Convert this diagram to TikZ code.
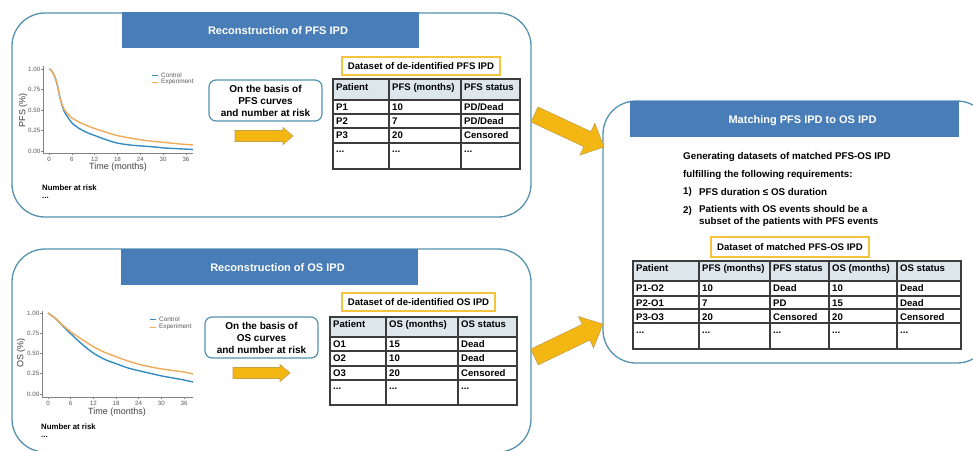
\documentclass[tikz,border=0pt]{standalone}
\usepackage{fontspec}
\setmainfont{Liberation Sans}
\definecolor{panelc}{RGB}{84,146,176}
\definecolor{bannerc}{RGB}{72,125,183}
\definecolor{goldc}{RGB}{243,182,18}
\definecolor{goldline}{RGB}{196,160,70}
\definecolor{hdrc}{RGB}{220,230,235}
\definecolor{gridc}{RGB}{60,60,60}
\definecolor{lblc}{RGB}{245,195,60}
\definecolor{ctrlc}{RGB}{52,140,196}
\definecolor{expc}{RGB}{240,170,90}
\definecolor{axisc}{RGB}{130,130,130}
\definecolor{tickc}{RGB}{90,90,90}
\tikzset{
 panelbox/.style={draw=panelc, line width=1.3pt, rounded corners=33pt},
 bannerbox/.style={fill=bannerc, draw=none},
 titletext/.style={text=white, inner sep=0pt, font=\fontsize{11}{13}\selectfont\bfseries},
 basisbox/.style={draw=panelc, line width=1.2pt, rounded corners=7pt, fill=white, minimum width=113pt, minimum height=41pt, align=center, font=\fontsize{10}{12}\selectfont\bfseries, inner sep=0pt},
 lblbox/.style={draw=lblc, line width=1.4pt, inner sep=0pt, font=\fontsize{9.6}{11}\selectfont\bfseries},
 celltext/.style={anchor=base west, inner sep=0pt, font=\fontsize{9.6}{11}\selectfont\bfseries},
 gridline/.style={draw=gridc, line width=1.1pt},
 hdrfill/.style={fill=hdrc, draw=none},
 bigarrow/.style={fill=goldc, draw=goldline, line width=0.6pt, line join=miter},
 ticklbl/.style={inner sep=0pt, text=tickc, font=\fontsize{6.2}{7}\selectfont},
 axline/.style={draw=axisc, line width=0.6pt},
 axlabel/.style={inner sep=0pt, text=black!75, font=\fontsize{9}{10}\selectfont},
 legtext/.style={anchor=west, inner sep=0pt, text=tickc, font=\fontsize{6.4}{7}\selectfont},
 riskhead/.style={anchor=west, inner sep=0pt, font=\fontsize{7.8}{9}\selectfont\bfseries},
 bodytext/.style={anchor=west, inner sep=0pt, font=\fontsize{9.8}{12}\selectfont\bfseries},
 ctrlcurve/.style={draw=ctrlc, line width=1.4pt},
 expcurve/.style={draw=expc, line width=1.4pt}
}
\begin{document}
\begin{tikzpicture}[x=1pt,y=-1pt]
\useasboundingbox (0,0) rectangle (973,450);
\clip (0,0) rectangle (973,450);
\fill[white] (0,0) rectangle (973,450);

% ================= panels =================
\draw[panelbox] (12,13) rectangle (531,217);
\draw[panelbox] (12,249) rectangle (531,452);
\draw[panelbox] (603,101) rectangle (990,363);

\fill[bannerbox] (122,12) rectangle (419,48);
\node[titletext] (t1) at (278,31) {Reconstruction of PFS IPD};
\fill[bannerbox] (121,249) rectangle (418,285);
\node[titletext] (t2) at (277.5,268) {Reconstruction of OS IPD};
\fill[bannerbox] (630,101) rectangle (959,137);
\node[titletext] (t3) at (802.5,121) {Matching PFS IPD to OS IPD};

% ================= PFS plot =================
\draw[axline] (43,66) -- (43,153) -- (193,153);
\foreach \yy/\lab in {69/1.00, 89.5/0.75, 110/0.50, 130.5/0.25, 151/0.00}{
  \draw[axline] (41,\yy) -- (43,\yy);
  \node[ticklbl, anchor=east] at (40.5,\yy) {\lab};
}
\foreach \k in {0,...,6}{
  \pgfmathsetmacro{\xx}{49+22.83*\k}
  \pgfmathtruncatemacro{\tv}{6*\k}
  \draw[axline] (\xx,153) -- (\xx,155);
  \node[ticklbl] at (\xx,159.5) {\tv};
}
\node[axlabel] (pfsx) at (118,167) {Time (months)};
\node[axlabel, rotate=90] (pfsy) at (23,110) {PFS (\%)};
\draw[ctrlcurve] plot[smooth, tension=0.5] coordinates {(49,69) (51,70) (53,73) (56,80) (58,88) (60,98) (62,105) (64,111) (67,116) (72,123) (80,129) (88,133) (96,136) (107,140) (117,143) (130,145) (142,146) (155,147) (165,148) (180,148.8) (193,149.5)};
\draw[expcurve] plot[smooth, tension=0.5] coordinates {(49,69) (51,70) (53,73) (56,80) (58,88) (60,98) (62,104) (64,109) (67,113) (72,118) (80,122.5) (88,126) (96,129) (107,132.5) (117,135.5) (130,138) (142,140) (155,141.5) (165,142.5) (180,144) (193,145)};
\draw[ctrlcurve, line width=1pt] (152,75) -- (158,75);
\draw[expcurve, line width=1pt] (152,82) -- (158,82);
\node[legtext] (pl1) at (161,75) {Control};
\node[legtext] (pl2) at (161,82) {Experiment};
\node[riskhead] (pr1) at (42,188) {Number at risk};
\node[riskhead] (pr2) at (42,198) {...};

% ================= OS plot =================
\draw[axline] (42,311) -- (42,397) -- (193,397);
\foreach \yy/\lab in {313/1.00, 333.25/0.75, 353.5/0.50, 373.75/0.25, 394/0.00}{
  \draw[axline] (40,\yy) -- (42,\yy);
  \node[ticklbl, anchor=east] at (39.5,\yy) {\lab};
}
\foreach \k in {0,...,6}{
  \pgfmathsetmacro{\xx}{48+22.67*\k}
  \pgfmathtruncatemacro{\tv}{6*\k}
  \draw[axline] (\xx,397) -- (\xx,399);
  \node[ticklbl] at (\xx,403.5) {\tv};
}
\node[axlabel] (osx) at (117,412) {Time (months)};
\node[axlabel, rotate=90] (osy) at (21,353) {OS (\%)};
\draw[ctrlcurve] plot[smooth, tension=0.5] coordinates {(48,313) (55,318) (62,325) (71,334) (83,345) (94,353.5) (105,359.5) (117,364) (128,368) (140,371) (151,373.5) (162,376) (173,378) (184,380) (193,382)};
\draw[expcurve] plot[smooth, tension=0.5] coordinates {(48,313) (55,318) (62,324.5) (71,332) (83,340) (94,347) (105,352.5) (117,357) (128,361) (140,364.5) (151,367) (162,369) (173,370.5) (184,372) (193,374)};
\draw[ctrlcurve, line width=1pt] (150,319) -- (156,319);
\draw[expcurve, line width=1pt] (150,327) -- (156,327);
\node[legtext] (ol1) at (159,319) {Control};
\node[legtext] (ol2) at (159,327) {Experiment};
\node[riskhead] (or1) at (41,427) {Number at risk};
\node[riskhead] (or2) at (41,437) {...};

% ================= basis boxes and small arrows =================
\node[basisbox] (b1) at (265.5,100.5) {On the basis of\\PFS curves\\and number at risk};
\node[basisbox] (b2) at (261.5,337.5) {On the basis of\\OS curves\\and number at risk};
\draw[bigarrow] (235,130.5) -- (283,130.5) -- (283,127.5) -- (293,136) -- (283,144.5) -- (283,141.5) -- (235,141.5) -- cycle;
\draw[bigarrow] (233,367.5) -- (280,367.5) -- (280,364.5) -- (290,373) -- (280,381.5) -- (280,378.5) -- (233,378.5) -- cycle;

% ================= PFS table =================
\node[lblbox, minimum width=158pt, minimum height=18pt] (lb1) at (421,66) {Dataset of de-identified PFS IPD};
\fill[hdrfill] (333,79) rectangle (520,100);
\draw[gridline] (333,79) rectangle (520,169);
\foreach \yy in {100,114,128,143} \draw[gridline] (333,\yy) -- (520,\yy);
\foreach \xx in {389,461} \draw[gridline] (\xx,79) -- (\xx,169);
\node[celltext] (a11) at (336,90) {Patient};
\node[celltext] (a12) at (392,90) {PFS (months)};
\node[celltext] (a13) at (464,90) {PFS status};
\node[celltext] (a21) at (336,110.5) {P1};
\node[celltext] (a22) at (392,110.5) {10};
\node[celltext] (a23) at (464,110.5) {PD/Dead};
\node[celltext] (a31) at (336,124.5) {P2};
\node[celltext] (a32) at (392,124.5) {7};
\node[celltext] (a33) at (464,124.5) {PD/Dead};
\node[celltext] (a41) at (336,138.5) {P3};
\node[celltext] (a42) at (392,138.5) {20};
\node[celltext] (a43) at (464,138.5) {Censored};
\node[celltext] (a51) at (336,152.5) {...};
\node[celltext] (a52) at (392,152.5) {...};
\node[celltext] (a53) at (464,152.5) {...};

% ================= OS table =================
\node[lblbox, minimum width=153pt, minimum height=18pt] (lb2) at (418.5,302) {Dataset of de-identified OS IPD};
\fill[hdrfill] (330,317) rectangle (517,337);
\draw[gridline] (330,317) rectangle (517,405);
\foreach \yy in {337,351,366,380} \draw[gridline] (330,\yy) -- (517,\yy);
\foreach \xx in {386,458} \draw[gridline] (\xx,317) -- (\xx,405);
\node[celltext] (b11) at (333,327) {Patient};
\node[celltext] (b12) at (389,327) {OS (months)};
\node[celltext] (b13) at (461,327) {OS status};
\node[celltext] (b21) at (333,347.5) {O1};
\node[celltext] (b22) at (389,347.5) {15};
\node[celltext] (b23) at (461,347.5) {Dead};
\node[celltext] (b31) at (333,361.5) {O2};
\node[celltext] (b32) at (389,361.5) {10};
\node[celltext] (b33) at (461,361.5) {Dead};
\node[celltext] (b41) at (333,376) {O3};
\node[celltext] (b42) at (389,376) {20};
\node[celltext] (b43) at (461,376) {Censored};
\node[celltext] (b51) at (333,389.5) {...};
\node[celltext] (b52) at (389,389.5) {...};
\node[celltext] (b53) at (461,389.5) {...};

% ================= big arrows =================
\begin{scope}[shift={(534.5,114.5)}, rotate=-25]
  \draw[bigarrow] (0,-8.25) -- (58.4,-8.25) -- (58.4,-17.5) -- (76.7,0) -- (58.4,17.5) -- (58.4,8.25) -- (0,8.25) -- cycle;
\end{scope}
\begin{scope}[shift={(534.5,357)}, rotate=25.7]
  \draw[bigarrow] (0,-8.7) -- (57.2,-8.7) -- (57.2,-17.3) -- (76,0) -- (57.2,17.3) -- (57.2,8.7) -- (0,8.7) -- cycle;
\end{scope}

% ================= matching panel =================
\node[bodytext] (g1) at (683,157) {Generating datasets of matched PFS-OS IPD};
\node[bodytext] (g2) at (683,175) {fulfilling the following requirements:};
\node[bodytext] (g3) at (683,192) {1)};
\node[bodytext] (g4) at (699,192) {PFS duration ≤ OS duration};
\node[bodytext] (g5) at (683,211) {2)};
\node[bodytext] (g6) at (699,209) {Patients with OS events should be a};
\node[bodytext] (g7) at (699,222) {subset of the patients with PFS events};

\node[lblbox, minimum width=158pt, minimum height=20pt] (lb3) at (790,247) {Dataset of matched PFS-OS IPD};
\fill[hdrfill] (633,261) rectangle (961,281);
\draw[gridline] (633,261) rectangle (961,349);
\foreach \yy in {281,296,309,323} \draw[gridline] (633,\yy) -- (961,\yy);
\foreach \xx in {699,770,829,897} \draw[gridline] (\xx,261) -- (\xx,349);
\node[celltext] (c11) at (636,271) {Patient};
\node[celltext] (c12) at (702,271) {PFS (months)};
\node[celltext] (c13) at (773,271) {PFS status};
\node[celltext] (c14) at (832,271) {OS (months)};
\node[celltext] (c15) at (900,271) {OS status};
\node[celltext] (c21) at (636,291) {P1-O2};
\node[celltext] (c22) at (702,291) {10};
\node[celltext] (c23) at (773,291) {Dead};
\node[celltext] (c24) at (832,291) {10};
\node[celltext] (c25) at (900,291) {Dead};
\node[celltext] (c31) at (636,306) {P2-O1};
\node[celltext] (c32) at (702,306) {7};
\node[celltext] (c33) at (773,306) {PD};
\node[celltext] (c34) at (832,306) {15};
\node[celltext] (c35) at (900,306) {Dead};
\node[celltext] (c41) at (636,320) {P3-O3};
\node[celltext] (c42) at (702,320) {20};
\node[celltext] (c43) at (773,320) {Censored};
\node[celltext] (c44) at (832,320) {20};
\node[celltext] (c45) at (900,320) {Censored};
\node[celltext] (c51) at (636,333.5) {...};
\node[celltext] (c52) at (702,333.5) {...};
\node[celltext] (c53) at (773,333.5) {...};
\node[celltext] (c54) at (832,333.5) {...};
\node[celltext] (c55) at (900,333.5) {...};
\end{tikzpicture}
\end{document}
